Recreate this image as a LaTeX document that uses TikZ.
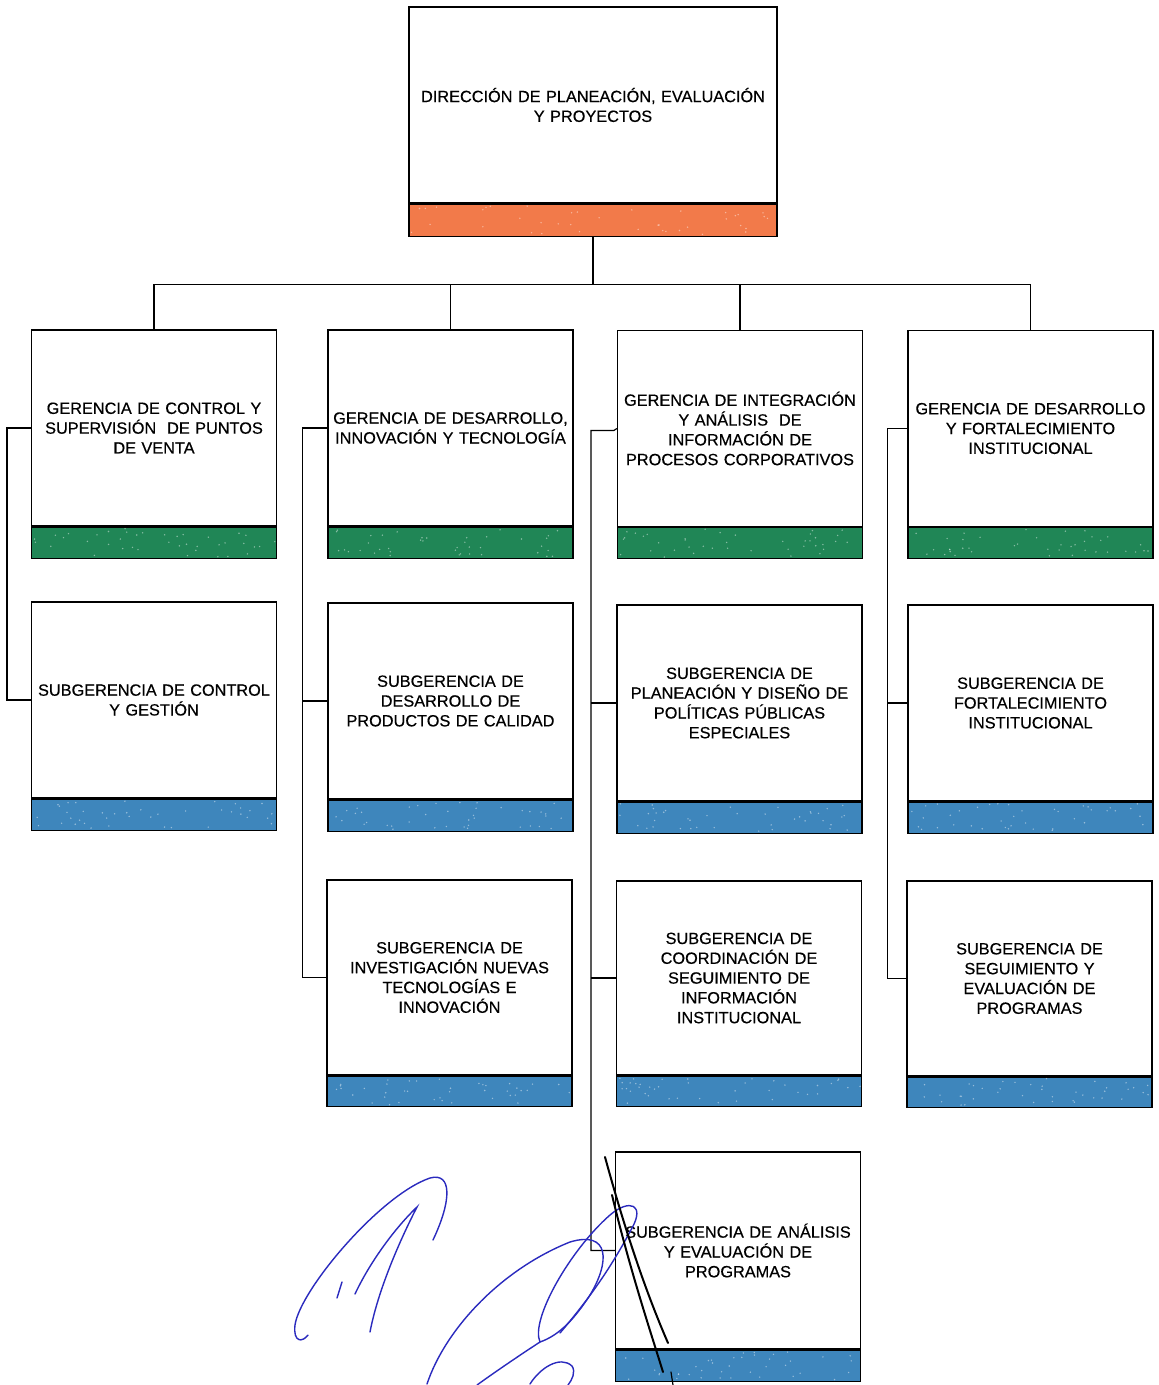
\documentclass[tikz,border=0pt]{standalone}
\usepackage{fontspec}
\setmainfont{Liberation Sans}
\newfontfamily\boxfont[FakeBold=0.45]{Liberation Sans}
\usetikzlibrary{calc}
\definecolor{bandorange}{RGB}{242,122,74}
\definecolor{bandgreen}{RGB}{32,134,86}
\definecolor{bandblue}{RGB}{62,134,188}
\definecolor{inkblue}{RGB}{42,42,190}
\begin{document}
\begin{tikzpicture}[x=1pt,y=-1pt,
  unitbox/.style={draw=black, line width=1.2pt, fill=white, minimum width=245,
    minimum height=196, text width=236, align=center, inner sep=0pt,
    font=\boxfont\fontsize{16.3}{19.8}\selectfont},
  band/.style={draw=black, line width=1.2pt, fill=#1, minimum width=245,
    minimum height=31, inner sep=0pt, anchor=north},
  link/.style={draw=black, line width=1.2pt},
  ink/.style={draw=inkblue, line width=1.4pt, line cap=round},
  pen/.style={draw=black, line width=2pt, line cap=round}]
\useasboundingbox[fill=white] (0,0) rectangle (1159,1385);

% Direction
\node[unitbox, minimum width=368, text width=350] (dir) at (593,105) {DIRECCIÓN DE PLANEACIÓN, EVALUACIÓN\\Y PROYECTOS};
\node[band=bandorange, minimum width=368, minimum height=32] (dirb) at (dir.south) {};

% Gerencias
\node[unitbox] (g1) at (154,428) {GERENCIA DE CONTROL Y\\SUPERVISIÓN\ \ DE PUNTOS\\DE VENTA};
\node[band=bandgreen] (g1b) at (g1.south) {};
\node[unitbox] (g2) at (450.5,428) {GERENCIA DE DESARROLLO,\\INNOVACIÓN Y TECNOLOGÍA};
\node[band=bandgreen] (g2b) at (g2.south) {};
\node[unitbox] (g3) at (740,428.5) {GERENCIA DE INTEGRACIÓN\\Y ANÁLISIS\ \ DE\\INFORMACIÓN DE\\PROCESOS CORPORATIVOS};
\node[band=bandgreen] (g3b) at (g3.south) {};
\node[unitbox] (g4) at (1030.5,428.5) {GERENCIA DE DESARROLLO\\Y FORTALECIMIENTO\\INSTITUCIONAL};
\node[band=bandgreen] (g4b) at (g4.south) {};

% Subgerencias, first row
\node[unitbox] (s11) at (154,700) {SUBGERENCIA DE CONTROL\\Y GESTIÓN};
\node[band=bandblue] (s11b) at (s11.south) {};
\node[unitbox] (s21) at (450.5,701) {SUBGERENCIA DE\\DESARROLLO DE\\PRODUCTOS DE CALIDAD};
\node[band=bandblue] (s21b) at (s21.south) {};
\node[unitbox] (s31) at (739.5,703) {SUBGERENCIA DE\\PLANEACIÓN Y DISEÑO DE\\POLÍTICAS PÚBLICAS\\ESPECIALES};
\node[band=bandblue] (s31b) at (s31.south) {};
\node[unitbox] (s41) at (1030.5,703) {SUBGERENCIA DE\\FORTALECIMIENTO\\INSTITUCIONAL};
\node[band=bandblue] (s41b) at (s41.south) {};

% Subgerencias, second row
\node[unitbox, minimum height=195] (s22) at (449.5,977.5) {SUBGERENCIA DE\\INVESTIGACIÓN NUEVAS\\TECNOLOGÍAS E\\INNOVACIÓN};
\node[band=bandblue, minimum height=30] (s22b) at (s22.south) {};
\node[unitbox, minimum height=194] (s32) at (739,978) {SUBGERENCIA DE\\COORDINACIÓN DE\\SEGUIMIENTO DE\\INFORMACIÓN\\INSTITUCIONAL};
\node[band=bandblue, minimum height=30] (s32b) at (s32.south) {};
\node[unitbox, minimum height=195] (s42) at (1029.5,978.5) {SUBGERENCIA DE\\SEGUIMIENTO Y\\EVALUACIÓN DE\\PROGRAMAS};
\node[band=bandblue, minimum height=30] (s42b) at (s42.south) {};

% Subgerencia, third row
\node[unitbox, minimum height=197] (s33) at (738,1250.5) {SUBGERENCIA DE ANÁLISIS\\Y EVALUACIÓN DE\\PROGRAMAS};
\node[band=bandblue] (s33b) at (s33.south) {};

% Light speckle on the coloured bands
\pgfmathsetseed{4711}
\foreach \b in {dirb,g1b,g2b,g3b,g4b,s11b,s21b,s31b,s41b,s22b,s32b,s42b,s33b}{
  \foreach \k in {1,...,40}{
    \fill[white, opacity=0.45] let \p1=(\b.north west), \p2=(\b.south east) in
      ({\x1+2pt+rnd*(\x2-\x1-4pt)},{\y1-2pt+rnd*(\y2-\y1+4pt)}) circle[radius=0.8pt];
  }
}

% Top stem and bus
\draw[link] (dirb.south) -- ++(0,48) coordinate (bus);
\draw[link] (g1.north) -- (g1.north |- bus) -- (g4.north |- bus) -- (g4.north);
\draw[link] (g2.north) -- (g2.north |- bus);
\draw[link] (g3.north) -- (g3.north |- bus);

% Column brackets
\draw[link] (g1.west) -- ++(-24,0) |- (s11.west);
\draw[link] (g2.west) -- ++(-25,0) coordinate (b2) |- (s22.west);
\draw[link] (s21.west) -- (s21.west -| b2);
\draw[link] (g3.west) -- ++(-3,2) -- ++(-23,0) coordinate (b3) |- (s33.west);
\draw[link] (s31.west) -- (s31.west -| b3);
\draw[link] (s32.west) -- (s32.west -| b3);
\draw[link] (g4.west) -- ++(-20,0) coordinate (b4) |- (s42.west);
\draw[link] (s41.west) -- (s41.west -| b4);

% Signatures
\draw[ink] (433,1240) .. controls (452,1200) and (452,1172) .. (430,1178)
  .. controls (380,1195) and (300,1290) .. (295,1325)
  .. controls (293,1342) and (302,1343) .. (308,1335);
\draw[ink] (342,1282) -- (337,1298);
\draw[ink] (355,1294) .. controls (370,1262) and (395,1228) .. (417,1207)
  .. controls (400,1240) and (378,1290) .. (370,1332);
\draw[ink] (427,1384) .. controls (445,1330) and (500,1270) .. (570,1242)
  .. controls (610,1230) and (610,1262) .. (590,1295)
  .. controls (575,1318) and (560,1335) .. (540,1342)
  .. controls (520,1355) and (495,1372) .. (477,1385);
\draw[ink] (540,1342) .. controls (530,1320) and (570,1250) .. (610,1215)
  .. controls (630,1198) and (645,1205) .. (632,1228)
  .. controls (615,1260) and (595,1292) .. (560,1333);
\draw[ink] (530,1384) .. controls (540,1368) and (560,1355) .. (572,1366)
  .. controls (576,1372) and (572,1380) .. (568,1385);
\draw[pen] (605,1157) .. controls (625,1230) and (645,1290) .. (668,1343);
\draw[pen] (612,1195) .. controls (630,1270) and (650,1330) .. (663,1372);
\draw[pen, line width=1.2pt] (671,1372) -- (673,1385);
\end{tikzpicture}
\end{document}
